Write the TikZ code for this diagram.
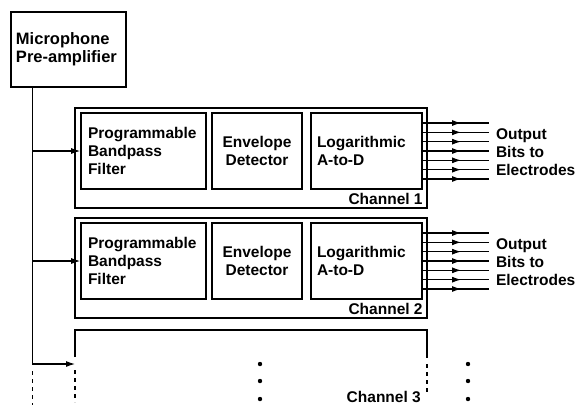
\documentclass[tikz,border=0pt]{standalone}
\usepackage{fontspec}
\setmainfont{Liberation Sans}
\usetikzlibrary{calc,arrows.meta,decorations.markings}

\tikzset{
	block/.style={draw, line width=1.6pt, rectangle, inner ysep=0pt, inner xsep=#1},
	block/.default=6pt,
	lbl/.style={font=\fontsize{15.5}{18}\selectfont\bfseries},
	wire/.style={line width=1.1pt},
	tip/.style={-{Latex[length=9pt,width=6pt]}},
	midarrow/.style={postaction={decorate}, decoration={markings, mark=at position 0.58 with {\arrow{Latex[length=9pt,width=6pt]}}}},
	gap/.style={dash pattern=on 4pt off 4pt},
}

\begin{document}
\begin{tikzpicture}[x=1pt, y=-1pt]
			%%%%% START %%%%%
			\useasboundingbox (0,0) rectangle (577,405);
			
			\node[block=5pt, lbl, font=\fontsize{16.5}{18}\selectfont\bfseries, text width=105, align=left, minimum height=75] (mic) at (68.5,49.5) {\mbox{Microphone}\\\mbox{Pre-amplifier}};
			\coordinate (bustop) at ($(mic.south west)+(22,0)$);
			
			\foreach \n/\y in {1/158, 2/268}{
				\node[draw, line width=1.6pt, minimum width=352, minimum height=100, inner sep=0pt] (chan\n) at (251,\y) {};
				\node[block=7pt, lbl, text width=111, align=left, minimum height=76] (filt\n) at (143.5,\y-7) {Programmable\\Bandpass\\Filter};
				\node[block, lbl, text width=78, align=center, minimum height=76] (env\n) at (257,\y-7) {Envelope\\Detector};
				\node[block, lbl, text width=99, align=left, minimum height=76] (log\n) at (366.5,\y-7) {Logarithmic\\A-to-D};
				\node[lbl, anchor=base east, inner sep=0pt] (lab\n) at ($(chan\n.south east)+(-5,-4)$) {Channel \n};
				
				\draw[wire, tip] (filt\n.west -| bustop) -- (filt\n.west);
				\foreach \k in {-3,...,3}
					\draw[wire, midarrow] ($(log\n.east)+(0,\k*9.33)$) -- ++(66,0);
				\node[lbl, anchor=west, align=left, inner sep=0pt] (out\n) at ($(log\n.east)+(73,1)$) {Output\\Bits to\\Electrodes};
			}
			
			% third channel, cut off
			\coordinate (c3w) at (75,330);
			\coordinate (c3e) at (427,330);
			\coordinate (c3in) at (75,364);
			\draw[line width=1.6pt] ($(c3w)+(0,27)$) -- (c3w) -- (c3e) -- ($(c3e)+(0,28)$);
			\draw[line width=1.6pt, gap] ($(c3w)+(0,40)$) -- ++(0,32);
			\draw[line width=1.6pt, gap] ($(c3e)+(0,34)$) -- ++(0,28);
			\node[lbl, anchor=base east, inner sep=0pt] (lab3) at (421,402) {Channel 3};
			
			\draw[wire] (bustop) -- (bustop |- c3in);
			\draw[wire, tip] (bustop |- c3in) -- (c3in);
			\draw[wire, gap] ($(bustop |- c3in)+(0,7)$) -- (bustop |- 0,405);
			
			\foreach \x in {260,468}
				\foreach \y in {364,381,399}
					\fill (\x,\y) circle (2.2pt);
			
			%%%%% END %%%%%
\end{tikzpicture}
\end{document}
